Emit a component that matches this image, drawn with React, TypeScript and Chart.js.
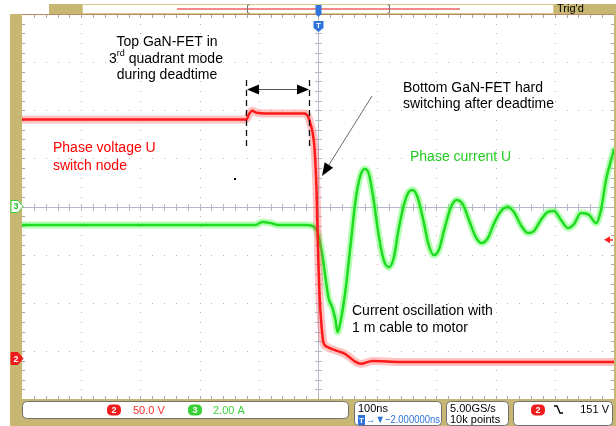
import { useEffect, useRef } from "react";
import { Chart, registerables } from "chart.js";

Chart.register(...registerables);

// Horizontal: 100 ns/div, trigger at screen centre
const TIME_MIN = -500;
const TIME_MAX = 500;

// Channel 2 – phase voltage U (switch node), 50 V/div
const voltageTimes = [-500, -121, -116, -111, -104, -63, -23, -16, -12.7, -9.3, -5.9, -2.5, -0.8, 0.8, 2.5, 5.9, 9.3, 14.4, 29.6, 46.5, 63.5, 72, 92, 140, 500];
const voltageValues = [250, 250, 256, 259, 257, 256, 256, 252, 245, 237, 220, 177, 135, 99, 68, 36, 18, 14, 10, 6, -2, -4, -1, -2, -2];

// Channel 3 – phase current U, 2 A/div
const currentTimes = [-500, -106, -94, -80, -67, -21, -9, -2.5, 2.5, 7.6, 12.7, 17.8, 24.5, 29.6, 33, 38, 46.5, 55, 63.5, 72, 79, 86, 94, 102.5, 111, 119.5, 128, 136, 145, 153, 160, 168, 178.5, 187, 195.5, 204, 214, 224, 234, 244.5, 255, 266.5, 276.5, 287, 298.6, 310.5, 320.6, 331, 342.6, 354.5, 364.6, 376.5, 388, 398.6, 410.5, 422, 432.5, 444, 458, 470, 478, 486.5, 495, 500];
const currentValues = [-0.77, -0.77, -0.64, -0.69, -0.77, -0.77, -0.81, -0.98, -1.39, -2.06, -2.97, -3.8, -4.22, -4.72, -5.22, -4.8, -3.47, -1.6, 0.27, 1.31, 1.56, 1.35, 0.27, -1.19, -2.22, -2.52, -2.14, -0.98, 0.06, 0.6, 0.69, 0.4, -0.64, -1.6, -2.02, -1.81, -0.89, -0.06, 0.27, 0.1, -0.56, -1.27, -1.52, -1.31, -0.64, -0.15, -0.02, -0.23, -0.77, -1.1, -1.02, -0.56, -0.23, -0.19, -0.56, -0.89, -0.73, -0.27, -0.35, -0.69, -0.15, 1.1, 1.93, 2.35];

// Vertical settings
const VOLTS_PER_DIV = 50;
const AMPS_PER_DIV = 2;
const CH2_POSITION_DIV = -3.19; // ch2 ground marker below centre
const CH3_POSITION_DIV = 0;

// Deadtime window (ns) marked by the dashed lines
const deadtimeStart = -121;
const deadtimeEnd = -15;

// Readouts
const ch2Scale = "50.0 V";
const ch3Scale = "2.00 A";
const timebase = "100ns";
const triggerDelay = "→▼−2.000000ns";
const sampleRate = "5.00GS/s";
const recordLength = "10k points";
const triggerLevel = "151 V";

const W = 616;
const H = 426;
const TAN = "#c8b773";
const RED = "#ff1a1a";
const GREEN = "#1fdc1f";
const BLUE = "#2f74d8";
const UI_FONT = "'Liberation Sans', Arial, sans-serif";
const NOTE_FONT = `14px ${UI_FONT}`;

function pts(xs: number[], ys: number[]) {
  return xs.map((x, i) => ({ x, y: ys[i] }));
}

function roundRect(ctx: CanvasRenderingContext2D, x: number, y: number, w: number, h: number, r: number) {
  ctx.beginPath();
  ctx.moveTo(x + r, y);
  ctx.lineTo(x + w - r, y);
  ctx.quadraticCurveTo(x + w, y, x + w, y + r);
  ctx.lineTo(x + w, y + h - r);
  ctx.quadraticCurveTo(x + w, y + h, x + w - r, y + h);
  ctx.lineTo(x + r, y + h);
  ctx.quadraticCurveTo(x, y + h, x, y + h - r);
  ctx.lineTo(x, y + r);
  ctx.quadraticCurveTo(x, y, x + r, y);
  ctx.closePath();
}

function badge(ctx: CanvasRenderingContext2D, cx: number, cy: number, label: string, fill: string) {
  ctx.fillStyle = fill;
  roundRect(ctx, cx - 7, cy - 5.5, 14, 11, 5);
  ctx.fill();
  ctx.fillStyle = "#ffffff";
  ctx.font = `bold 9px ${UI_FONT}`;
  ctx.textAlign = "center";
  ctx.textBaseline = "middle";
  ctx.fillText(label, cx, cy + 0.5);
}

function sideMarker(ctx: CanvasRenderingContext2D, right: number, cy: number, label: string, fill: string, stroke: string, text: string) {
  ctx.beginPath();
  ctx.moveTo(right - 11, cy - 6);
  ctx.lineTo(right - 4, cy - 6);
  ctx.lineTo(right + 1, cy);
  ctx.lineTo(right - 4, cy + 6);
  ctx.lineTo(right - 11, cy + 6);
  ctx.closePath();
  ctx.fillStyle = fill;
  ctx.fill();
  ctx.strokeStyle = stroke;
  ctx.lineWidth = 1;
  ctx.stroke();
  ctx.fillStyle = text;
  ctx.font = `bold 9px ${UI_FONT}`;
  ctx.textAlign = "center";
  ctx.textBaseline = "middle";
  ctx.fillText(label, right - 6, cy + 0.5);
}

function triangle(ctx: CanvasRenderingContext2D, tipX: number, tipY: number, angle: number, len: number, half: number) {
  const bx = tipX - Math.cos(angle) * len;
  const by = tipY - Math.sin(angle) * len;
  const nx = -Math.sin(angle) * half;
  const ny = Math.cos(angle) * half;
  ctx.beginPath();
  ctx.moveTo(tipX, tipY);
  ctx.lineTo(bx + nx, by + ny);
  ctx.lineTo(bx - nx, by - ny);
  ctx.closePath();
  ctx.fill();
}

const scopeScreen = {
  id: "scopeScreen",
  beforeDraw(chart: any) {
    const { ctx, chartArea: a } = chart;
    ctx.save();
    ctx.fillStyle = "#ffffff";
    ctx.fillRect(0, 0, W, H);

    // bezel
    ctx.fillStyle = TAN;
    ctx.fillRect(10, a.top, a.left - 10, H - a.top);
    ctx.fillRect(10, a.bottom, W - 10, H - a.bottom);
    ctx.fillRect(a.right, a.top, W - a.right, a.bottom - a.top);
    ctx.fillStyle = "#ffffff";
    ctx.fillRect(a.left, a.top, a.right - a.left, a.bottom - a.top);
    ctx.fillStyle = "#b98a62";
    ctx.fillRect(a.left, a.top, a.right - a.left, 1);

    const dx = (a.right - a.left) / 10;
    const dy = (a.bottom - a.top) / 8;
    const cx = Math.round(a.left + 5 * dx);
    const cy = Math.round(a.top + 4 * dy);

    // dotted graticule
    ctx.fillStyle = "#b4b4b4";
    for (let i = 1; i < 10; i++) {
      if (i === 5) continue;
      const x = Math.round(a.left + i * dx);
      for (let k = 1; k < 40; k++) ctx.fillRect(x, Math.round(a.top + (k * dy) / 5), 1, 1);
    }
    for (let j = 1; j < 8; j++) {
      if (j === 4) continue;
      const y = Math.round(a.top + j * dy);
      for (let k = 1; k < 50; k++) ctx.fillRect(Math.round(a.left + (k * dx) / 5), y, 1, 1);
    }

    // centre cross with minor ticks
    ctx.fillStyle = "#b3b8cc";
    ctx.fillRect(a.left, cy, a.right - a.left, 1);
    ctx.fillRect(cx, a.top, 1, a.bottom - a.top);
    for (let k = 1; k < 50; k++) ctx.fillRect(Math.round(a.left + (k * dx) / 5), cy - 3, 1, 7);
    for (let k = 1; k < 40; k++) ctx.fillRect(cx - 3, Math.round(a.top + (k * dy) / 5), 7, 1);

    // edge ticks
    ctx.fillStyle = "#a8a8a8";
    for (let k = 1; k < 50; k++) {
      const x = Math.round(a.left + (k * dx) / 5);
      ctx.fillRect(x, a.top + 1, 1, 3);
      ctx.fillRect(x, a.bottom - 3, 1, 3);
    }
    for (let k = 1; k < 40; k++) {
      const y = Math.round(a.top + (k * dy) / 5);
      ctx.fillRect(a.left, y, 3, 1);
      ctx.fillRect(a.right - 3, y, 3, 1);
    }
    ctx.restore();
  },
  afterDatasetsDraw(chart: any) {
    const { ctx, chartArea: a, scales } = chart;
    const xs = scales.x;
    ctx.save();

    // deadtime markers
    const x1 = Math.round(xs.getPixelForValue(deadtimeStart)) + 0.5;
    const x2 = Math.round(xs.getPixelForValue(deadtimeEnd)) + 0.5;
    ctx.strokeStyle = "#111111";
    ctx.lineWidth = 1.3;
    ctx.setLineDash([6, 4]);
    ctx.beginPath();
    ctx.moveTo(x1, 80);
    ctx.lineTo(x1, 147);
    ctx.moveTo(x2, 80);
    ctx.lineTo(x2, 147);
    ctx.stroke();
    ctx.setLineDash([]);
    ctx.strokeStyle = "#555555";
    ctx.lineWidth = 1;
    ctx.beginPath();
    ctx.moveTo(x1 + 8, 89.5);
    ctx.lineTo(x2 - 8, 89.5);
    ctx.stroke();
    ctx.fillStyle = "#000000";
    triangle(ctx, x1 + 0.5, 89.5, Math.PI, 12, 5);
    triangle(ctx, x2 - 0.5, 89.5, 0, 12, 5);

    // pointer to the hard-switching edge
    ctx.strokeStyle = "#6a6a6a";
    ctx.lineWidth = 1;
    ctx.beginPath();
    ctx.moveTo(372, 96);
    ctx.lineTo(327, 168);
    ctx.stroke();
    const ang = Math.atan2(176 - 96, 322 - 372);
    triangle(ctx, 322, 176, ang, 13, 5);

    // labels
    ctx.font = NOTE_FONT;
    ctx.textBaseline = "middle";
    ctx.fillStyle = "#000000";
    ctx.textAlign = "center";
    ctx.fillText("Top GaN-FET in", 167, 42);
    {
      const a1 = "3";
      const sup = "rd";
      const rest = " quadrant mode";
      ctx.font = NOTE_FONT;
      const w1 = ctx.measureText(a1).width;
      const w3 = ctx.measureText(rest).width;
      ctx.font = `9px ${UI_FONT}`;
      const w2 = ctx.measureText(sup).width;
      let sx = 166 - (w1 + w2 + w3) / 2;
      ctx.textAlign = "left";
      ctx.font = NOTE_FONT;
      ctx.fillText(a1, sx, 59);
      sx += w1;
      ctx.font = `9px ${UI_FONT}`;
      ctx.fillText(sup, sx, 54);
      sx += w2;
      ctx.font = NOTE_FONT;
      ctx.fillText(rest, sx, 59);
    }
    ctx.textAlign = "center";
    ctx.fillText("during deadtime", 167, 75);

    ctx.textAlign = "left";
    ctx.fillText("Bottom GaN-FET hard", 403, 88);
    ctx.fillText("switching after deadtime", 403, 104);
    ctx.fillText("Current oscillation with", 352, 311);
    ctx.fillText("1 m cable to motor", 352, 328);

    ctx.fillStyle = "#ff0000";
    ctx.fillText("Phase voltage U", 53, 148);
    ctx.fillText("switch node", 53, 166);
    ctx.fillStyle = "#22cc22";
    ctx.fillText("Phase current U", 410, 157);

    ctx.fillStyle = "#000000";
    ctx.fillRect(234, 178, 2, 2);

    // trigger marker at top of graticule
    const tx = Math.round(xs.getPixelForValue(0)) + 0.5;
    ctx.fillStyle = BLUE;
    ctx.beginPath();
    ctx.moveTo(tx - 5, 21);
    ctx.lineTo(tx + 5, 21);
    ctx.lineTo(tx + 5, 28);
    ctx.lineTo(tx, 32);
    ctx.lineTo(tx - 5, 28);
    ctx.closePath();
    ctx.fill();
    ctx.fillStyle = "#ffffff";
    ctx.font = `bold 8px ${UI_FONT}`;
    ctx.textAlign = "center";
    ctx.fillText("T", tx, 25.5);

    // trigger level arrow on the right edge
    const vy = scales.yV.getPixelForValue(125);
    ctx.fillStyle = "#ff2020";
    triangle(ctx, a.right - 10, vy, Math.PI, 6, 3.5);
    ctx.fillRect(a.right - 5, vy - 0.5, 4, 1.5);

    // channel ground markers on the left edge
    sideMarker(ctx, a.left, scales.yA.getPixelForValue(0), "3", "#ffffff", "#3bd13b", "#22bb22");
    sideMarker(ctx, a.left, scales.yV.getPixelForValue(0) - 1.5, "2", "#ee1c1c", "#ee1c1c", "#ffffff");
    ctx.restore();
  },
  afterDraw(chart: any) {
    const { ctx, chartArea: a, scales } = chart;
    ctx.save();
    const tx = Math.round(scales.x.getPixelForValue(0)) + 0.5;

    // record-view bar at the top
    ctx.fillStyle = TAN;
    ctx.fillRect(49, 4, 33, 10);
    ctx.fillRect(554, 4, W - 554, 10);
    ctx.fillStyle = "#ffffff";
    ctx.fillRect(82, 4, 472, 10);
    ctx.strokeStyle = "#d9c98e";
    ctx.lineWidth = 1;
    ctx.strokeRect(82.5, 4.5, 471, 9);
    ctx.fillStyle = "#f08a8a";
    ctx.fillRect(177, 8, 283, 2);
    ctx.strokeStyle = "#777777";
    ctx.beginPath();
    ctx.moveTo(249.5, 5);
    ctx.lineTo(247.5, 5);
    ctx.lineTo(247.5, 13);
    ctx.lineTo(249.5, 13);
    ctx.moveTo(387.5, 5);
    ctx.lineTo(389.5, 5);
    ctx.lineTo(389.5, 13);
    ctx.lineTo(387.5, 13);
    ctx.stroke();
    ctx.fillStyle = BLUE;
    ctx.beginPath();
    ctx.moveTo(tx - 3, 5);
    ctx.lineTo(tx + 3, 5);
    ctx.lineTo(tx + 3, 14);
    ctx.lineTo(tx, 17);
    ctx.lineTo(tx - 3, 14);
    ctx.closePath();
    ctx.fill();
    ctx.fillStyle = "#000000";
    ctx.font = `11px ${UI_FONT}`;
    ctx.textAlign = "left";
    ctx.textBaseline = "middle";
    ctx.fillText("Trig'd", 557, 9);

    // status readouts
    const by = a.bottom + 2;
    ctx.fillStyle = "#ffffff";
    ctx.strokeStyle = "#6f6f6f";
    ctx.lineWidth = 1;
    roundRect(ctx, 22.5, by + 0.5, 326, 17, 5);
    ctx.fill();
    ctx.stroke();
    badge(ctx, 114, by + 9, "2", "#ee1c1c");
    ctx.font = `11px ${UI_FONT}`;
    ctx.textAlign = "left";
    ctx.textBaseline = "middle";
    ctx.fillStyle = "#ff2a2a";
    ctx.fillText(ch2Scale, 133, by + 9.5);
    badge(ctx, 195, by + 9, "3", "#38d038");
    ctx.font = `11px ${UI_FONT}`;
    ctx.textAlign = "left";
    ctx.fillStyle = "#3fd23f";
    ctx.fillText(ch3Scale, 213, by + 9.5);

    const boxes = [
      [354.5, 87],
      [446.5, 62],
      [513.5, 99],
    ];
    for (const [bx, bw] of boxes) {
      ctx.fillStyle = "#ffffff";
      ctx.strokeStyle = "#6f6f6f";
      roundRect(ctx, bx, by + 0.5, bw, 24, 4);
      ctx.fill();
      ctx.stroke();
    }
    ctx.fillStyle = "#000000";
    ctx.font = `11px ${UI_FONT}`;
    ctx.textAlign = "left";
    ctx.fillText(timebase, 358, by + 7.5);
    ctx.fillText(sampleRate, 450, by + 7.5);
    ctx.fillText(recordLength, 450, by + 18.5, 55);
    ctx.fillStyle = BLUE;
    ctx.fillRect(358, by + 14, 7, 10);
    ctx.fillStyle = "#ffffff";
    ctx.font = `bold 8px ${UI_FONT}`;
    ctx.textAlign = "center";
    ctx.fillText("T", 361.5, by + 19.5);
    ctx.fillStyle = BLUE;
    ctx.font = `11px ${UI_FONT}`;
    ctx.textAlign = "left";
    ctx.fillText(triggerDelay, 366, by + 18.5, 74);

    badge(ctx, 538, by + 9, "2", "#ee1c1c");
    ctx.strokeStyle = "#000000";
    ctx.lineWidth = 1.4;
    ctx.beginPath();
    ctx.moveTo(554, by + 5);
    ctx.lineTo(557, by + 5);
    ctx.lineTo(560, by + 12);
    ctx.lineTo(563, by + 12);
    ctx.stroke();
    ctx.fillStyle = "#000000";
    ctx.font = `11px ${UI_FONT}`;
    ctx.textAlign = "right";
    ctx.fillText(triggerLevel, 609, by + 9);
    ctx.restore();
  },
};

export default function App() {
  const ref = useRef<HTMLCanvasElement>(null);

  useEffect(() => {
    const canvas = ref.current;
    if (!canvas) return;
    const vCentre = -CH2_POSITION_DIV * VOLTS_PER_DIV;
    const aCentre = -CH3_POSITION_DIV * AMPS_PER_DIV;
    const voltage = pts(voltageTimes, voltageValues);
    const current = pts(currentTimes, currentValues);

    const chart = new Chart(canvas, {
      type: "line",
      data: {
        datasets: [
          { data: voltage, yAxisID: "yV", borderColor: RED, borderWidth: 2.5, order: 0, cubicInterpolationMode: "monotone" },
          { data: voltage, yAxisID: "yV", borderColor: "rgba(255,80,80,0.35)", borderWidth: 8, order: 1, cubicInterpolationMode: "monotone" },
          { data: current, yAxisID: "yA", borderColor: GREEN, borderWidth: 2.5, order: 2, cubicInterpolationMode: "monotone" },
          { data: current, yAxisID: "yA", borderColor: "rgba(90,255,90,0.45)", borderWidth: 7, order: 3, cubicInterpolationMode: "monotone" },
        ],
      },
      options: {
        responsive: false,
        animation: false,
        devicePixelRatio: 1,
        layout: { padding: { left: 22, top: 14, right: 2, bottom: 27 } },
        elements: { point: { radius: 0 }, line: { borderCapStyle: "round", borderJoinStyle: "round" } },
        scales: {
          x: { type: "linear", min: TIME_MIN, max: TIME_MAX, display: false },
          yV: { type: "linear", min: vCentre - 4 * VOLTS_PER_DIV, max: vCentre + 4 * VOLTS_PER_DIV, display: false },
          yA: { type: "linear", min: aCentre - 4 * AMPS_PER_DIV, max: aCentre + 4 * AMPS_PER_DIV, display: false },
        },
        plugins: { legend: { display: false }, tooltip: { enabled: false } },
      },
      plugins: [scopeScreen],
    } as any);

    return () => chart.destroy();
  }, []);

  return (
    <div style={{ position: "absolute", left: 0, top: 0, width: W, height: H }}>
      <canvas ref={ref} width={W} height={H} style={{ display: "block", width: W, height: H }} />
    </div>
  );
}
